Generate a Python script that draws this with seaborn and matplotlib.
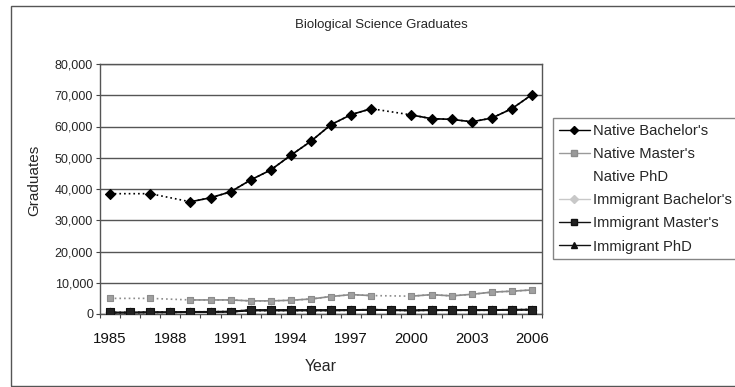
import numpy as np
import pandas as pd
import matplotlib
matplotlib.use("Agg")
import matplotlib.pyplot as plt
from matplotlib.lines import Line2D
from matplotlib.patches import Rectangle
import seaborn as sns

nan = np.nan

# data
years = list(range(1985, 2007))
native_bachelors = [38500, nan, 38500, nan, 35900, 37200, 39100, 42900, 46100, 50800, 55300,
                    60600, 63800, 65700, nan, 63700, 62500, 62300, 61500, 62700, 65700, 70200]
native_masters = [5000, nan, 5000, nan, 4500, 4500, 4500, 4200, 4200, 4400, 4800,
                  5600, 6200, 5900, nan, 5700, 6200, 5800, 6300, 7000, 7300, 7700]
immigrant_bachelors = [500, 550, 600, 650, 700, 750, 800, 1200, 1200, 1200, 1200,
                       1200, 1200, 1300, 1200, 1100, 1200, 1200, 1200, 1200, 1300, 1300]
immigrant_masters = [500, 500, 600, 600, 700, 700, 800, 1300, 1300, 1300, 1300,
                     1300, 1300, 1400, 1300, 1200, 1300, 1300, 1300, 1300, 1400, 1400]
immigrant_phd = [400, 400, 500, 500, 600, 600, 700, 1100, 1100, 1100, 1100,
                 1100, 1200, 1300, 1200, 1100, 1200, 1200, 1200, 1200, 1300, 1400]

labels = ["Native Bachelor's", "Native Master's", "Native PhD",
          "Immigrant Bachelor's", "Immigrant Master's", "Immigrant PhD"]


def draw_series(ax, y, color, marker, size, fc, z):
    """Dotted line across missing years, solid line between consecutive years, then markers."""
    s = pd.Series(y, index=np.arange(len(y)), dtype=float)
    valid = s.dropna()
    sns.lineplot(x=valid.index, y=valid.values, ax=ax, color=color, lw=1.2,
                 linestyle=(0, (1, 1.8)), legend=False, zorder=z)
    # solid runs of consecutive years
    run = []
    for i, v in s.items():
        if np.isnan(v):
            if len(run) > 1:
                sns.lineplot(x=run, y=s[run].values, ax=ax, color=color, lw=1.2,
                             legend=False, zorder=z)
            run = []
        else:
            run.append(i)
    if len(run) > 1:
        sns.lineplot(x=run, y=s[run].values, ax=ax, color=color, lw=1.2,
                     legend=False, zorder=z)
    sns.scatterplot(x=valid.index, y=valid.values, ax=ax, marker=marker, s=size,
                    color=fc, edgecolor=color, linewidth=0.8, legend=False, zorder=z + 0.5)


sns.set_theme(style="white")
plt.rcParams["font.family"] = ["Liberation Sans", "DejaVu Sans"]

fig = plt.figure(figsize=(7.35, 3.87), dpi=100)
ax = fig.add_axes([100 / 735, 1 - 314 / 387, 442 / 735, 250 / 387])

draw_series(ax, immigrant_bachelors, "#c8c8c8", "D", 22, "#c8c8c8", 3)
draw_series(ax, immigrant_phd, "#111111", "^", 28, "#111111", 4)
draw_series(ax, immigrant_masters, "#111111", "s", 26, "#222222", 5)
draw_series(ax, native_masters, "#8c8c8c", "s", 24, "#a0a0a0", 6)
draw_series(ax, native_bachelors, "#000000", "D", 26, "#000000", 7)

idx = np.arange(len(years))
ax.set_xlim(-0.5, len(years) - 0.5)
ax.set_ylim(0, 80000)
ax.set_yticks(np.arange(0, 80001, 10000))
ax.set_yticklabels([f"{v:,}" for v in range(0, 80001, 10000)], fontsize=9)
ax.set_xticks(idx[::3])
ax.set_xticklabels([str(y) for y in years[::3]], fontsize=10.8)
ax.set_xticks(np.arange(-0.5, len(years), 1), minor=True)
ax.tick_params(axis="x", which="major", length=0, pad=13, colors="#111111")
ax.tick_params(axis="x", which="minor", length=3, width=0.8, color="#444444", direction="out", bottom=True)
ax.tick_params(axis="y", which="major", length=3, width=0.8, color="#444444", direction="out", left=True, pad=2)

ax.yaxis.grid(True, color="#555555", lw=1)
ax.set_axisbelow(True)
for side in ["left", "bottom", "right", "top"]:
    ax.spines[side].set_color("#555555")
    ax.spines[side].set_linewidth(1)

ax.set_xlabel("Year", fontsize=11.4)
ax.xaxis.set_label_coords(0.5, -0.18)
ax.xaxis.label.set_va("top")
ax.set_ylabel("Graduates", fontsize=11)
ax.yaxis.set_label_coords(-0.133, 0.536)

fig.text(381 / 735, 1 - 25 / 387, "Biological Science Graduates", ha="center", va="center", fontsize=9.5)

# legend built by hand so the empty Native PhD entry keeps its slot
handles = [
    Line2D([], [], color="#000000", lw=1, marker="D", ms=4.5, mfc="#000000"),
    Line2D([], [], color="#9a9a9a", lw=1, marker="s", ms=4.5, mfc="#9a9a9a", mec="#8c8c8c"),
    Line2D([], [], linestyle="none"),
    Line2D([], [], color="#c8c8c8", lw=1, marker="D", ms=4, mfc="#c8c8c8"),
    Line2D([], [], color="#111111", lw=1, marker="s", ms=4.5, mfc="#222222"),
    Line2D([], [], color="#111111", lw=1, marker="^", ms=5, mfc="#111111"),
]
fig.legend(handles, labels, loc="upper left", bbox_to_anchor=(553 / 735, 1 - 118 / 387),
           borderaxespad=0, fontsize=10.6, frameon=True, fancybox=False, edgecolor="#666666",
           handlelength=2.1, handletextpad=0.25, labelspacing=0.62, borderpad=0.4)

fig.add_artist(Rectangle((11 / 735, 1 - 386 / 387), 1.2, 380 / 387, transform=fig.transFigure,
                         fill=False, edgecolor="#555555", lw=1))

fig.savefig("out.png", dpi=100)
